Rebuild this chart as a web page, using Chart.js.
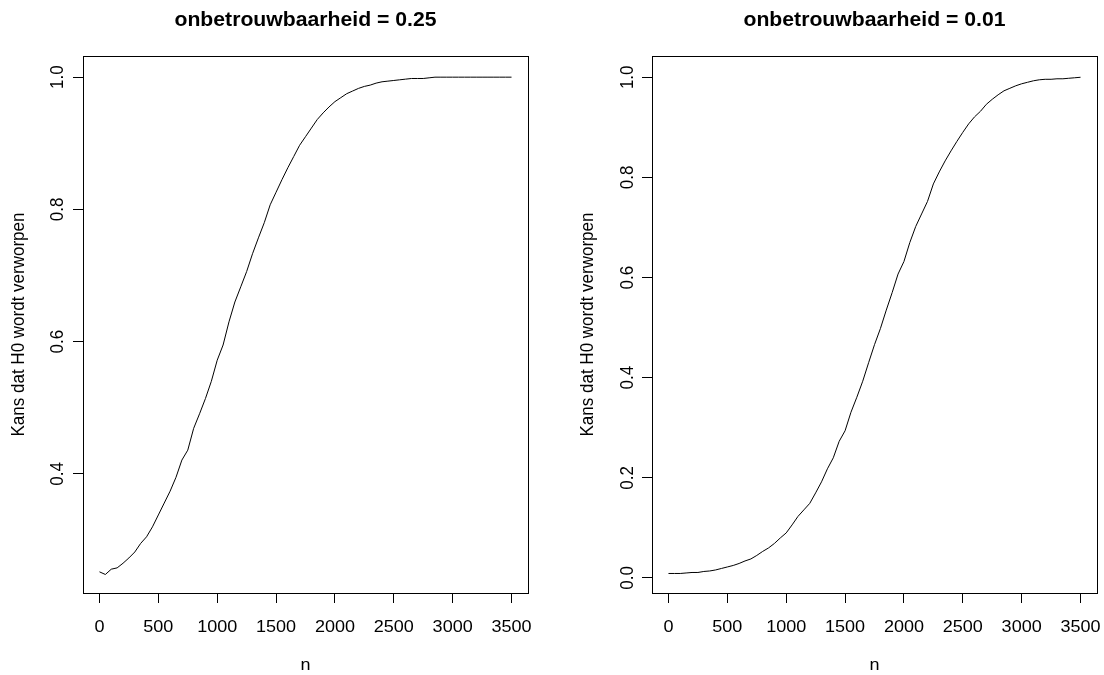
<!DOCTYPE html>
<html>
<head>
<meta charset="utf-8">
<script src="https://cdn.jsdelivr.net/npm/chart.js@4"></script>
<style>
  html, body { margin: 0; padding: 0; background: #fff; }
  #wrap { position: relative; width: 1104px; height: 675px; }
  .panel { position: absolute; top: 0; width: 552px; height: 675px; }
</style>
</head>
<body>
<div id="wrap">
  <div class="panel" style="left:0"><canvas id="left" width="552" height="675"></canvas></div>
  <div class="panel" style="left:552px"><canvas id="right" width="552" height="675"></canvas></div>
</div>
<script>
"use strict";

var nValues = [0, 50, 100, 150, 200, 250, 300, 350, 400, 450, 500, 550, 600, 650, 700, 750,
    800, 850, 900, 950, 1000, 1050, 1100, 1150, 1200, 1250, 1300, 1350, 1400, 1450, 1500,
    1550, 1600, 1650, 1700, 1750, 1800, 1850, 1900, 1950, 2000, 2050, 2100, 2150, 2200,
    2250, 2300, 2350, 2400, 2450, 2500, 2550, 2600, 2650, 2700, 2750, 2800, 2850, 2900,
    2950, 3000, 3050, 3100, 3150, 3200, 3250, 3300, 3350, 3400, 3450, 3500];

// onbetrouwbaarheid = 0.25
var power25 = [0.252, 0.248, 0.256, 0.258, 0.265, 0.273, 0.282, 0.295, 0.305, 0.320, 0.338,
    0.356, 0.374, 0.395, 0.421, 0.436, 0.469, 0.491, 0.514, 0.540, 0.572, 0.595, 0.630,
    0.660, 0.683, 0.706, 0.733, 0.757, 0.780, 0.807, 0.826, 0.845, 0.863, 0.880, 0.897,
    0.910, 0.923, 0.936, 0.946, 0.955, 0.963, 0.969, 0.975, 0.979, 0.983, 0.986, 0.988,
    0.991, 0.993, 0.994, 0.995, 0.996, 0.997, 0.998, 0.998, 0.998, 0.999, 1.000, 1.000,
    1.000, 1.000, 1.000, 1.000, 1.000, 1.000, 1.000, 1.000, 1.000, 1.000, 1.000, 1.000];

// onbetrouwbaarheid = 0.01
var power01 = [0.009, 0.009, 0.009, 0.010, 0.011, 0.011, 0.013, 0.014, 0.016, 0.019, 0.022,
    0.025, 0.029, 0.034, 0.038, 0.045, 0.053, 0.060, 0.069, 0.080, 0.090, 0.106, 0.123,
    0.136, 0.149, 0.170, 0.192, 0.218, 0.240, 0.273, 0.294, 0.331, 0.361, 0.393, 0.430,
    0.466, 0.498, 0.535, 0.570, 0.607, 0.632, 0.670, 0.702, 0.727, 0.752, 0.787, 0.811,
    0.833, 0.853, 0.872, 0.890, 0.907, 0.921, 0.932, 0.946, 0.956, 0.965, 0.973, 0.978,
    0.983, 0.987, 0.990, 0.993, 0.995, 0.996, 0.996, 0.997, 0.997, 0.998, 0.999, 1.000];

var xTicks = [0, 500, 1000, 1500, 2000, 2500, 3000, 3500];
var yTicks25 = [0.4, 0.6, 0.8, 1.0];
var yTicks01 = [0.0, 0.2, 0.4, 0.6, 0.8, 1.0];

var xLabel = 'n';
var yLabel = 'Kans dat H0 wordt verworpen';

var textStretch = 1.06;
var fontName = '"Liberation Sans", Arial, sans-serif';

function drawText(ctx, text, x, y, rotate) {
    ctx.save();
    ctx.translate(x, y);
    ctx.scale(textStretch, 1);
    if (rotate) ctx.rotate(-Math.PI / 2);
    ctx.fillText(text, 0, 0);
    ctx.restore();
}

// box, titles and tick labels in the style of base R graphics
var rText = {
    id: 'rText',
    afterDraw: function (chart, args, opts) {
        var ctx = chart.ctx, a = chart.chartArea;
        var xs = chart.scales.x, ys = chart.scales.y;
        ctx.save();
        ctx.strokeStyle = '#000';
        ctx.lineWidth = 1;
        ctx.strokeRect(a.left + 0.5, a.top + 0.5, a.right - a.left, a.bottom - a.top);

        ctx.fillStyle = '#000';
        ctx.textAlign = 'center';
        ctx.textBaseline = 'alphabetic';
        ctx.font = 'bold 20px ' + fontName;
        drawText(ctx, opts.title, (a.left + a.right) / 2, 26, false);

        ctx.font = '17px ' + fontName;
        xs.ticks.forEach(function (t) {
            drawText(ctx, String(t.value), xs.getPixelForValue(t.value), 632, false);
        });
        ys.ticks.forEach(function (t) {
            drawText(ctx, t.value.toFixed(1), opts.yTickX, ys.getPixelForValue(t.value), true);
        });
        drawText(ctx, xLabel, (a.left + a.right) / 2, 670, false);
        drawText(ctx, yLabel, opts.yTitleX, (a.top + a.bottom) / 2, true);
        ctx.restore();
    }
};

function makePanel(id, values, yTicks, yMin, yMax, title, yWidth, padRight, yTickX, yTitleX) {
    var pts = nValues.map(function (n, i) { return {x: n, y: values[i]}; });
    return new Chart(document.getElementById(id).getContext('2d'), {
        type: 'line',
        data: {
            datasets: [{
                data: pts,
                borderColor: '#000',
                borderWidth: 1,
                pointRadius: 0,
                tension: 0,
                fill: false
            }]
        },
        options: {
            responsive: false,
            animation: false,
            layout: {padding: {top: 56, right: padRight, left: 0, bottom: 0}},
            plugins: {
                legend: {display: false},
                tooltip: {enabled: false},
                title: {display: false},
                rText: {title: title, yTickX: yTickX, yTitleX: yTitleX}
            },
            scales: {
                x: {
                    type: 'linear',
                    min: -140,
                    max: 3640,
                    afterBuildTicks: function (s) { s.ticks = xTicks.map(function (v) { return {value: v}; }); },
                    afterFit: function (s) { s.height = 82; },
                    grid: {drawOnChartArea: false, drawTicks: true, tickLength: 10, color: '#000', lineWidth: 1},
                    border: {display: false},
                    ticks: {display: false}
                },
                y: {
                    type: 'linear',
                    min: yMin,
                    max: yMax,
                    afterBuildTicks: function (s) { s.ticks = yTicks.map(function (v) { return {value: v}; }); },
                    afterFit: function (s) { s.width = yWidth; },
                    grid: {drawOnChartArea: false, drawTicks: true, tickLength: 10, color: '#000', lineWidth: 1},
                    border: {display: false},
                    ticks: {display: false}
                }
            }
        },
        plugins: [rText]
    });
}

makePanel('left', power25, yTicks25, 0.22, 1.032, 'onbetrouwbaarheid = 0.25', 83, 24, 62.5, 24);
makePanel('right', power01, yTicks01, -0.030, 1.0425, 'onbetrouwbaarheid = 0.01', 100, 7, 80.5, 40.5);
</script>
</body>
</html>
